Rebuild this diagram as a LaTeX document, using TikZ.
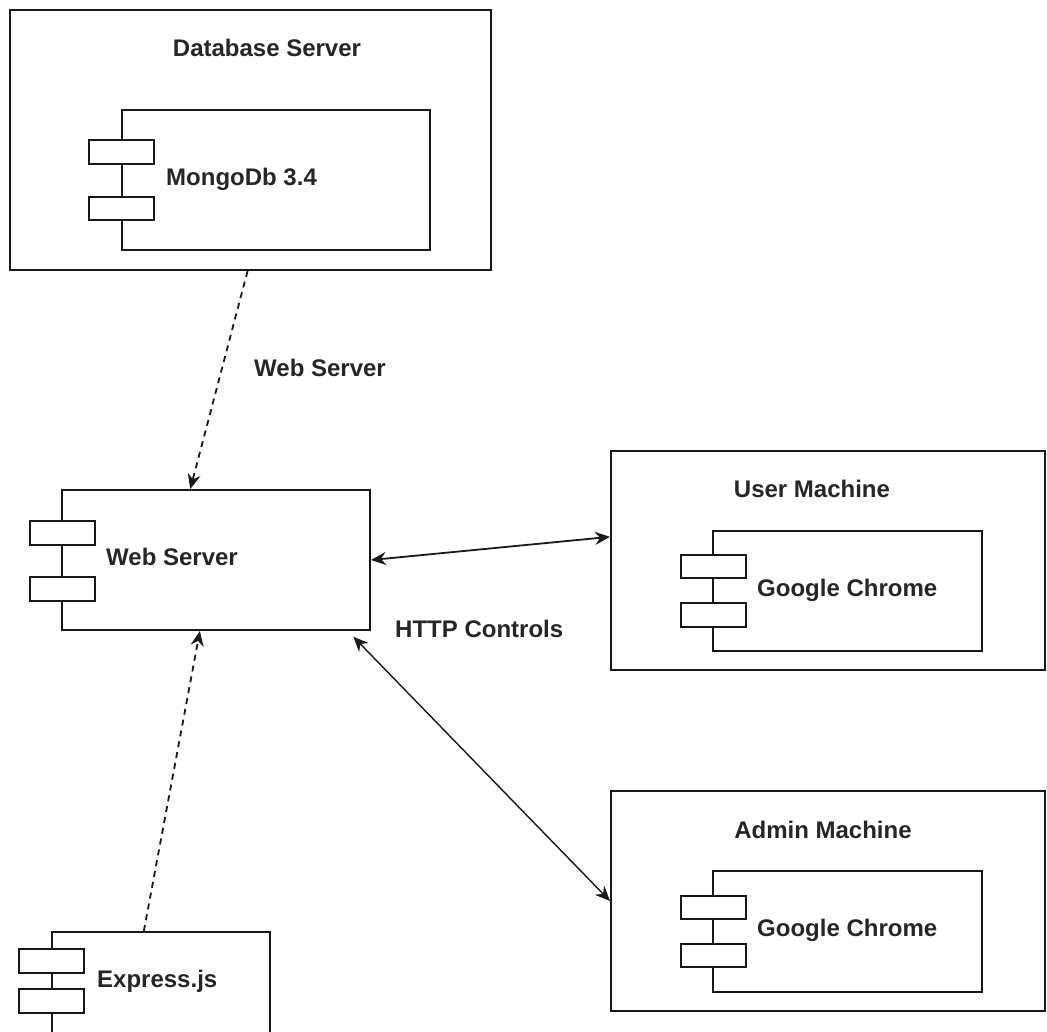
\documentclass[tikz,border=0pt]{standalone}
\usepackage{fontspec}
\setmainfont{Liberation Sans}
\usetikzlibrary{arrows.meta,calc}
\begin{document}
\begin{tikzpicture}[x=1pt,y=-1pt,
  box/.style={draw=black!90,line width=2pt,fill=white,inner sep=0pt,rectangle},
  tab/.style={draw=black!90,line width=2pt,fill=white,inner sep=0pt,rectangle,minimum width=65pt,minimum height=23.5pt},
  lbl/.style={inner sep=0pt,font=\bfseries\fontsize{24}{28}\selectfont,text=black!85,text height=17pt,text depth=0pt},
  dep/.style={draw=black!90,line width=1.8pt,dash pattern=on 6pt off 5pt,-{Stealth[length=15pt,width=13pt,inset=5pt]}},
  link/.style={draw=black!90,line width=1.8pt,{Stealth[length=15pt,width=13pt,inset=5pt]}-{Stealth[length=15pt,width=13pt,inset=5pt]}}
]
\useasboundingbox (0,0) rectangle (1047,1032);
\clip (0,0) rectangle (1047,1032);
\fill[white] (0,0) rectangle (1047,1032);

% Database server
\node[box,minimum width=481pt,minimum height=260pt] (db) at (250,140) {};
\node[box,minimum width=308pt,minimum height=140pt] (mongo) at (276,180) {};
\node[tab] (mt1) at (121.5,152) {};
\node[tab] (mt2) at (121.5,208.5) {};
\node[lbl] (dbt) at (267,48.5) {Database Server};
\node[lbl,anchor=west] (mongot) at (166,177) {MongoDb 3.4};

% Web server component
\node[box,minimum width=308pt,minimum height=140pt] (ws) at (216,560) {};
\node[tab] (wt1) at (62,533) {};
\node[tab] (wt2) at (62,589) {};
\node[lbl,anchor=west] (wst) at (106,557) {Web Server};

% User machine
\node[box,minimum width=434pt,minimum height=219pt] (user) at (828,560.5) {};
\node[box,minimum width=269pt,minimum height=120pt] (chrome1) at (847.5,591) {};
\node[tab] (ct1) at (713.5,566.5) {};
\node[tab] (ct2) at (713.5,615) {};
\node[lbl] (usert) at (812,489) {User Machine};
\node[lbl,anchor=west] (chrome1t) at (757,588) {Google Chrome};

% Admin machine
\node[box,minimum width=434pt,minimum height=220pt] (admin) at (828,901) {};
\node[box,minimum width=269pt,minimum height=121pt] (chrome2) at (847.5,931.5) {};
\node[tab] (at1) at (713.5,907.5) {};
\node[tab] (at2) at (713.5,955.5) {};
\node[lbl] (admint) at (823,830) {Admin Machine};
\node[lbl,anchor=west] (chrome2t) at (757,928) {Google Chrome};

% Express.js
\node[box,minimum width=218pt,minimum height=112pt] (express) at (161,988) {};
\node[tab] (et1) at (51.5,961) {};
\node[tab] (et2) at (51.5,1001) {};
\node[lbl,anchor=west] (expresst) at (97,979) {Express.js};

% labels on connectors
\node[lbl,anchor=west] (wsl) at (254,368) {Web Server};
\node[lbl,anchor=west] (http) at (395,629) {HTTP Controls};

% connectors
\draw[dep] ($(db.south west)!0.495!(db.south east)$) -- ($(ws.north west)!0.417!(ws.north east)$);
\draw[dep] ($(express.north west)!0.422!(express.north east)$) -- ($(ws.south west)!0.448!(ws.south east)$);
\draw[link] (ws.east) -- ($(user.north west)!0.393!(user.south west)$);
\draw[link,line width=1.4pt,shorten <=8pt] ($(ws.south west)!0.925!(ws.south east)$) -- (admin.west);
\end{tikzpicture}
\end{document}
